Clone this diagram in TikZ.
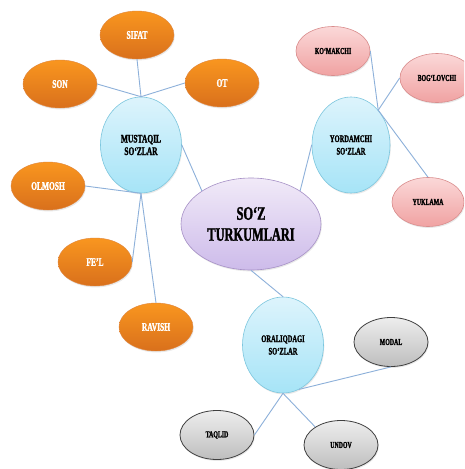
\documentclass[tikz,border=0pt]{standalone}
\usepackage{fontspec}
\setmainfont{Liberation Serif}
\newfontfamily\condf{Liberation Serif}[FakeStretch=0.65, BoldFeatures={FakeBold=1.6}]
\usetikzlibrary{shapes.geometric,shadows}
\definecolor{orTop}{HTML}{F9961F}
\definecolor{orBot}{HTML}{D9701C}
\definecolor{blTop}{HTML}{DDF4FC}
\definecolor{blBot}{HTML}{A6E4F7}
\definecolor{blLine}{HTML}{7CC6DE}
\definecolor{puTop}{HTML}{F1EAF8}
\definecolor{puBot}{HTML}{CDBBEA}
\definecolor{puLine}{HTML}{A690C6}
\definecolor{pkTop}{HTML}{FBD8D8}
\definecolor{pkBot}{HTML}{F0A2A2}
\definecolor{pkLine}{HTML}{D98C8C}
\definecolor{grTop}{HTML}{EEEEEE}
\definecolor{grBot}{HTML}{BDBDBD}
\definecolor{grLine}{HTML}{3F3F3F}
\definecolor{lnk}{HTML}{8DB0DA}
\begin{document}
\begin{tikzpicture}[x=1pt,y=-1pt,
  bub/.style={ellipse, inner sep=0pt, align=center,
    drop shadow={opacity=0.18, shadow xshift=0.8pt, shadow yshift=-1.4pt}},
  orangeb/.style={bub, minimum width=74pt, minimum height=48pt,
    top color=orTop, bottom color=orBot, draw=orBot!85!white, line width=0.4pt,
    text=white, font=\condf\bfseries\fontsize{11.5}{13}\selectfont},
  blueb/.style={bub, minimum width=81pt, minimum height=96pt,
    top color=blTop, bottom color=blBot, draw=blLine, line width=0.6pt,
    font=\condf\bfseries\fontsize{10}{12.5}\selectfont},
  pinkb/.style={bub, minimum width=74pt, minimum height=49pt,
    top color=pkTop, bottom color=pkBot, draw=pkLine, line width=0.6pt,
    font=\condf\bfseries\fontsize{9}{11}\selectfont},
  grayb/.style={bub, minimum width=74pt, minimum height=49pt,
    top color=grTop, bottom color=grBot, draw=grLine, line width=0.8pt,
    font=\condf\bfseries\fontsize{9}{11}\selectfont},
  mainb/.style={bub, minimum width=140pt, minimum height=92pt,
    top color=puTop, bottom color=puBot, draw=puLine, line width=0.6pt,
    font=\condf\bfseries\fontsize{19}{21}\selectfont},
  link/.style={draw=lnk, line width=0.9pt}]
\useasboundingbox (0,0) rectangle (464,469);
\fill[white] (0,0) rectangle (464,469);
\clip (0,0) rectangle (464,469);

% central
\node[mainb] (soz) at (251,224) {SO‘Z\\TURKUMLARI};
% blue hubs
\node[blueb, font=\condf\bfseries\fontsize{11.5}{12.5}\selectfont] (must) at (141,145) {MUSTAQIL\\SO‘ZLAR};
\node[blueb, minimum width=78pt] (yord) at (351,145) {YORDAMCHI\\SO‘ZLAR};
\node[blueb] (oral) at (283,345) {ORALIQDAGI\\SO‘ZLAR};
% orange
\node[orangeb] (sifat) at (137,35) {SIFAT};
\node[orangeb] (son) at (60,84) {SON};
\node[orangeb] (ot) at (222,83) {OT};
\node[orangeb] (olm) at (48,186) {OLMOSH};
\node[orangeb] (fel) at (95,262) {FE’L};
\node[orangeb] (rav) at (156,327) {RAVISH};
% pink
\node[pinkb] (kom) at (333,51) {KO‘MAKCHI};
\node[pinkb] (bog) at (437,78) {BOG‘LOVCHI};
\node[pinkb, minimum width=72pt] (yuk) at (428,202) {YUKLAMA};
% gray
\node[grayb] (modal) at (391,342) {MODAL};
\node[grayb] (taq) at (217,435) {TAQLID};
\node[grayb] (undov) at (341,445) {UNDOV};

% connectors
\draw[link] (sifat.south) -- (must.north);
\draw[link] (son.east) -- (must.north);
\draw[link] (ot.west) -- (must.north);
\draw[link] (olm.east) -- (must.south);
\draw[link] (fel.east) -- (must.south);
\draw[link] (rav.north) -- (must.south);
\draw[link] (must.east) -- (soz.146);
\draw[link] (soz.34) -- (yord.west);
\draw[link] (kom.east) -- (yord.52);
\draw[link] (bog.west) -- (yord.52);
\draw[link] (yuk.north) -- (yord.52);
\draw[link] (soz.south) -- (oral.north);
\draw[link] (modal.south) -- (oral.-70);
\draw[link] (taq.east) -- (oral.south);
\draw[link] (undov.145) -- (oral.south);
\end{tikzpicture}
\end{document}
